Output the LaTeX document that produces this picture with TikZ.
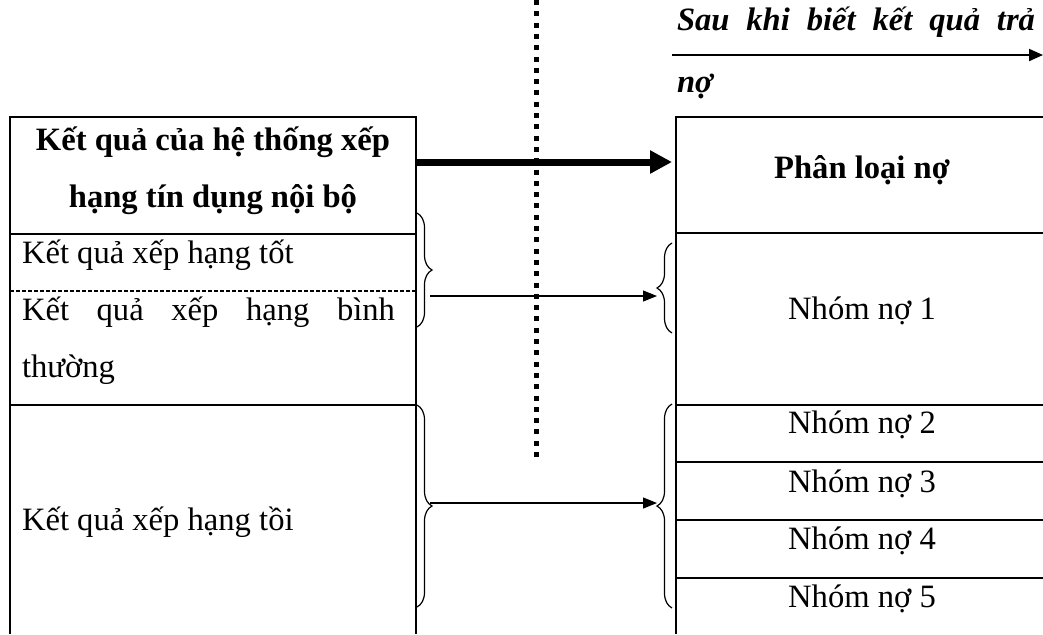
\documentclass[tikz,border=0pt]{standalone}
\usepackage{fontspec}
\setmainfont{Liberation Serif}
\usetikzlibrary{arrows.meta,decorations.pathreplacing}

\begin{document}
\begin{tikzpicture}[x=0.5pt,y=-0.5pt,
  every node/.style={inner sep=0pt, outer sep=0pt},
  txt/.style={font=\fontsize{16.3}{20}\selectfont},
  boldtxt/.style={font=\fontsize{16.3}{20}\selectfont\bfseries},
  bitxt/.style={font=\fontsize{16.3}{20}\selectfont\bfseries\itshape},
  rule/.style={line width=1pt},
  thinrule/.style={line width=0.7pt},
  dashrule/.style={line width=0.6pt, dash pattern=on 2pt off 1pt},
  curly/.style={decorate, decoration={brace, amplitude=7.5pt}, line width=0.6pt},
  flow/.style={line width=0.6pt, -{Triangle[length=7pt,width=5.5pt]}},
  bigflow/.style={line width=3.5pt, -{Triangle[length=11pt,width=11pt]}},
  timeflow/.style={line width=1pt, -{Triangle[length=7pt,width=6pt]}},
  dotline/.style={line width=2.5pt, dash pattern=on 2.5pt off 3.15pt}
]
\useasboundingbox (0,0) rectangle (1043,634);

% left column: rating results
\draw[rule] (10,634) -- (10,117) -- (416,117) -- (416,634);
\draw[rule] (10,234) -- (416,234);
\draw[dashrule] (10,291) -- (416,291);
\draw[rule] (10,405) -- (416,405);

% right column: debt classification
\draw[rule] (676,634) -- (676,117) -- (1043,117);
\draw[rule] (676,233) -- (1043,233);
\draw[rule] (676,405) -- (1043,405);
\draw[thinrule] (676,462) -- (1043,462);
\draw[thinrule] (676,520) -- (1043,520);
\draw[rule] (676,578) -- (1043,578);

% texts of the left column
\node[boldtxt, anchor=base] (hdrL1) at (213,150) {Kết quả của hệ thống xếp};
\node[boldtxt, anchor=base] (hdrL2) at (213,207) {hạng tín dụng nội bộ};
\node[txt, anchor=base west] (good) at (22,263) {Kết quả xếp hạng tốt};
\node[txt, anchor=base west] (normal1) at (22,320)
  {\hbox to 186.5pt{Kết\hfill quả\hfill xếp\hfill hạng\hfill bình}};
\node[txt, anchor=base west] (normal2) at (22,377) {thường};
\node[txt, anchor=base west] (bad) at (22,530) {Kết quả xếp hạng tồi};

% texts of the right column
\node[boldtxt, anchor=base] (hdrR) at (862,178) {Phân loại nợ};
\node[txt, anchor=base] (g1) at (862,319) {Nhóm nợ 1};
\node[txt, anchor=base] (g2) at (862,433) {Nhóm nợ 2};
\node[txt, anchor=base] (g3) at (862,492) {Nhóm nợ 3};
\node[txt, anchor=base] (g4) at (862,549) {Nhóm nợ 4};
\node[txt, anchor=base] (g5) at (862,607) {Nhóm nợ 5};

% time label above the right column
\node[bitxt, anchor=base west] (after1) at (677,30)
  {\hbox to 179pt{Sau\hfill khi\hfill biết\hfill kết\hfill quả\hfill trả}};
\node[bitxt, anchor=base west] (after2) at (677,92) {nợ};
\coordinate (timeS) at (672,55);
\coordinate (timeE) at (1043,55);
\draw[timeflow] (timeS) -- (timeE);

% dotted separator
\coordinate (sepTop) at (536,0);
\coordinate (sepBot) at (536,458);
\draw[dotline] (sepTop) -- (sepBot);

% main mapping arrow
\coordinate (mainS) at (416,162);
\coordinate (mainE) at (672,162);
\draw[bigflow] (mainS) -- (mainE);

% braces grouping the rows
\draw[curly] (417,213) -- (417,327);
\draw[curly] (417,405) -- (417,607);
\draw[curly] (672,333) -- (672,243);
\draw[curly] (672,608) -- (672,404);

% group arrows
\coordinate (upS) at (430,296);
\coordinate (upE) at (657,296);
\coordinate (loS) at (430,503);
\coordinate (loE) at (657,503);
\draw[flow] (upS) -- (upE);
\draw[flow] (loS) -- (loE);
\end{tikzpicture}
\end{document}
